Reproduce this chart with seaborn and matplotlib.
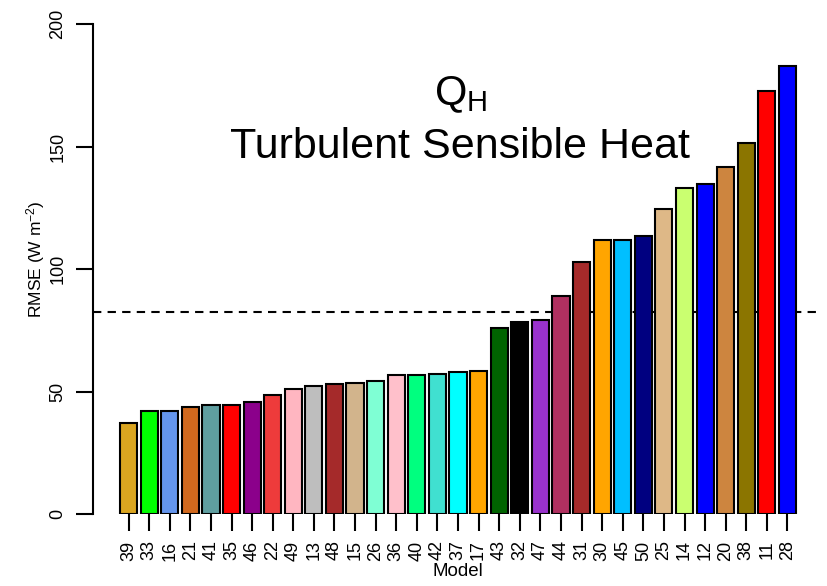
import matplotlib
matplotlib.use("Agg")
import matplotlib.pyplot as plt
import seaborn as sns
import pandas as pd

models = ["39", "33", "16", "21", "41", "35", "46", "22", "49", "13", "48",
          "15", "26", "36", "40", "42", "37", "17", "43", "32", "47", "44",
          "31", "30", "45", "50", "25", "14", "12", "20", "38", "11", "28"]
rmse = [37.1, 42.0, 42.0, 43.7, 44.5, 44.5, 45.7, 48.6, 51.0, 52.2, 53.0,
        53.5, 54.3, 56.7, 56.7, 57.0, 58.0, 58.4, 76.0, 78.4, 79.2, 89.0,
        102.9, 111.8, 111.8, 113.5, 124.5, 133.0, 134.7, 141.6, 151.4, 172.6, 182.9]
colors = ["#DAA520", "#00FF00", "#6495ED", "#D2691E", "#5F9EA0", "#FF0000",
          "#8B008B", "#EE3B3B", "#FFB6C1", "#BEBEBE", "#A52A2A", "#D2B48C",
          "#7FFFD4", "#FFC0CB", "#00FF7F", "#40E0D0", "#00FFFF", "#FFA500",
          "#006400", "#000000", "#9932CC", "#B03060", "#A52A2A", "#FFA500",
          "#00BFFF", "#000080", "#DEB887", "#CAFF70", "#0000FF", "#CD853F",
          "#8B7500", "#FF0000", "#0000FF"]
mean_rmse = 82.4
yticks = [0, 50, 100, 150, 200]

sns.set_theme(style="white")
plt.rcParams["font.family"] = ["Liberation Sans", "DejaVu Sans"]
plt.rcParams["mathtext.fontset"] = "custom"
plt.rcParams["mathtext.rm"] = "Liberation Sans"
plt.rcParams["mathtext.it"] = "Liberation Sans"
plt.rcParams["text.color"] = "black"
plt.rcParams["axes.labelcolor"] = "black"
plt.rcParams["xtick.color"] = "black"
plt.rcParams["ytick.color"] = "black"

df = pd.DataFrame({"model": models, "rmse": rmse})
fig = plt.figure(figsize=(8.27, 5.86), dpi=100)
W, H = 827, 586
ax = fig.add_axes([93 / W, 1 - 514 / H, (822 - 93) / W, (514 - 24) / H])

sns.barplot(data=df, x="model", y="rmse", order=models, hue="model",
            hue_order=models, palette=dict(zip(models, colors)), legend=False,
            width=0.833, edgecolor="black", linewidth=1.5, saturation=1, ax=ax)

pitch = 20.59
c0 = 120 + 0.833 * pitch / 2
ax.set_xlim((93 - c0) / pitch, (822 - c0) / pitch)
ax.set_ylim(0, 200)
ax.axhline(mean_rmse, ls=(0, (4, 3)), color="black", lw=1.5, zorder=0.5)

for s in ["top", "right", "bottom"]:
    ax.spines[s].set_visible(False)
ax.spines["left"].set_bounds(0, 200)
ax.spines["left"].set_color("black")
ax.spines["left"].set_linewidth(1.5)

ax.set_yticks(yticks)
ax.set_yticklabels([str(v) for v in yticks], rotation=90, va="center", fontsize=13)
ax.tick_params(axis="y", left=True, length=12, width=1.5, pad=7)
ax.tick_params(axis="x", bottom=True, length=12, width=1.5, pad=7,
               labelsize=13, labelrotation=90)

ax.set_xlabel("Model", fontsize=13.5, labelpad=2)
ax.set_ylabel(r"RMSE (W m$^{-2}$)", fontsize=12.5)
ax.yaxis.set_label_coords(-0.063, 0.52)

ax.text(0.505, 0.855, r"Q$_\mathrm{H}$", transform=ax.transAxes, ha="center",
        va="center", fontsize=30)
ax.text(0.503, 0.75, "Turbulent Sensible Heat", transform=ax.transAxes,
        ha="center", va="center", fontsize=31)

fig.savefig("out.png", dpi=100)
